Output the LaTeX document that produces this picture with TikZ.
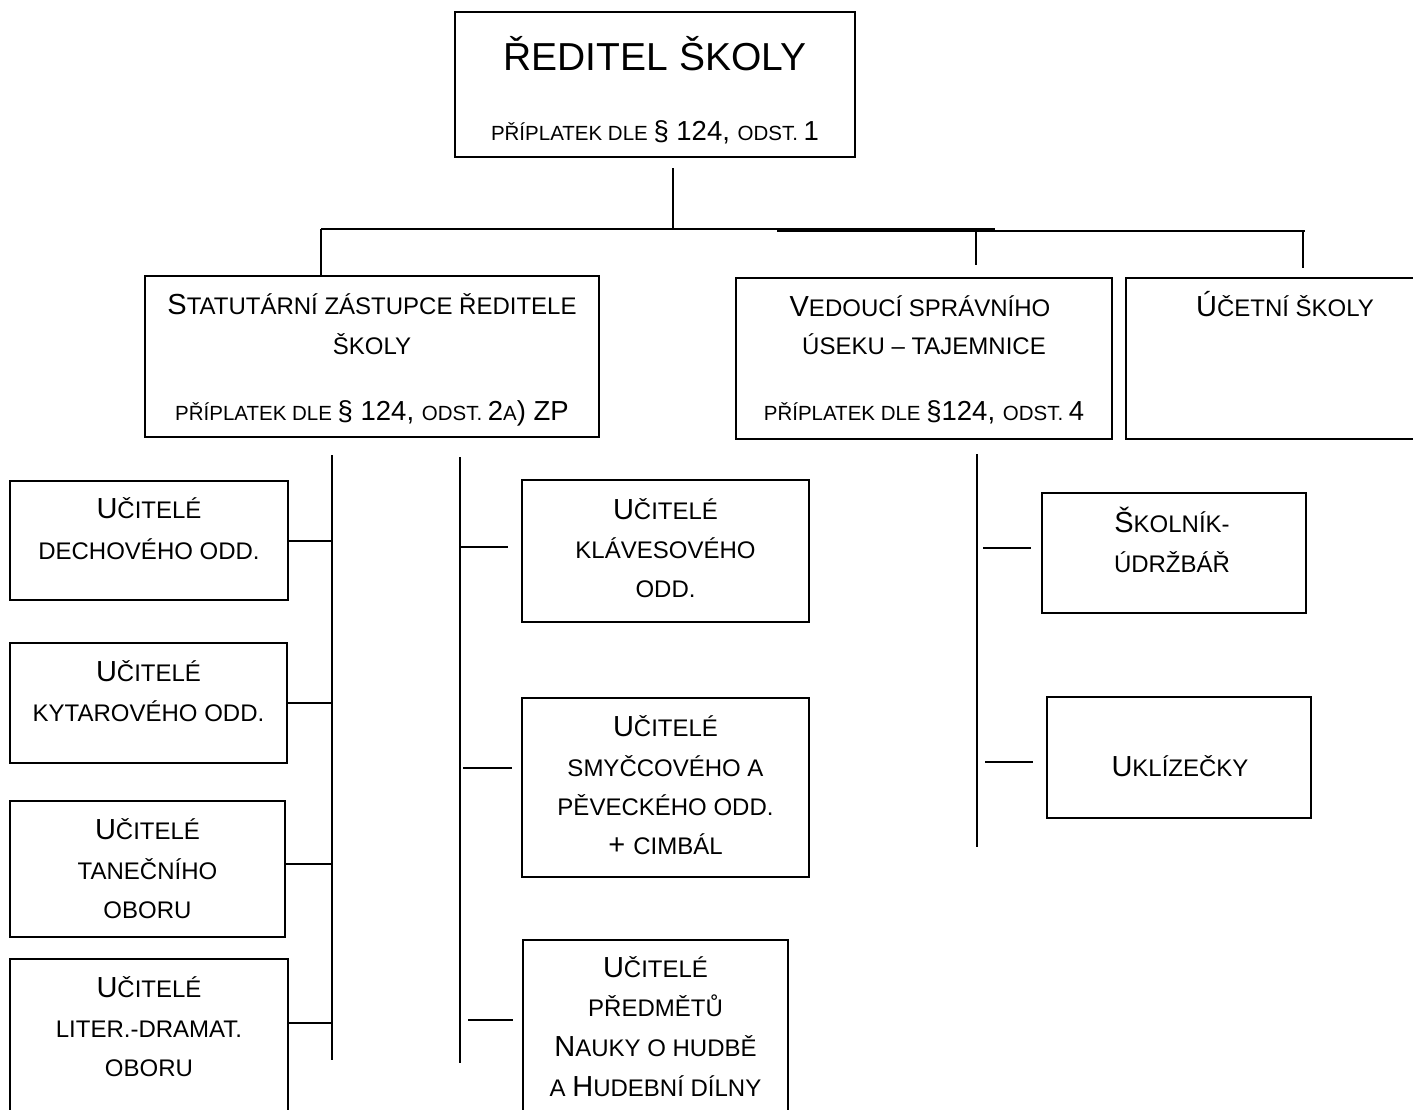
\documentclass[tikz,border=0pt]{standalone}
\usepackage{fontspec}
\setmainfont{Liberation Sans}
\newcommand\Sm[1]{{\fontsize{24}{24}\selectfont #1}}
\newcommand\Ss[1]{{\fontsize{20.5}{20.5}\selectfont #1}}
\begin{document}
\begin{tikzpicture}[x=1pt,y=-1pt,
  box/.style={draw, line width=1.8pt, inner sep=0pt},
  conn/.style={line width=1.5pt},
  txt/.style={inner sep=0pt, anchor=base, font=\fontsize{29}{29}\selectfont},
  subtxt/.style={inner sep=0pt, anchor=base, font=\fontsize{27.5}{27.5}\selectfont},
  titletxt/.style={inner sep=0pt, anchor=base, font=\fontsize{39}{39}\selectfont}]
\clip (0,0) rectangle (1413,1109);
\fill[white] (0,0) rectangle (1413,1109);

% boxes
\node[box, minimum width=400, minimum height=145] (top) at (655,84.5) {};
\node[box, minimum width=454, minimum height=161] (stat) at (372,356.5) {};
\node[box, minimum width=376, minimum height=161] (ved) at (924,358.5) {};
\node[box, minimum width=318, minimum height=161] (uct) at (1285,358.5) {};
\node[box, minimum width=278, minimum height=119] (dech) at (149,540.5) {};
\node[box, minimum width=277, minimum height=120] (kyt) at (148.5,703) {};
\node[box, minimum width=275, minimum height=136] (tan) at (147.5,869) {};
\node[box, minimum width=278, minimum height=171] (lit) at (149,1044.5) {};
\node[box, minimum width=287, minimum height=142] (klav) at (665.5,551) {};
\node[box, minimum width=287, minimum height=179] (smy) at (665.5,787.5) {};
\node[box, minimum width=265, minimum height=190] (pred) at (655.5,1035) {};
\node[box, minimum width=264, minimum height=120] (skol) at (1174,553) {};
\node[box, minimum width=264, minimum height=121] (ukl) at (1179,757.5) {};

% texts
\node[titletxt] (top-1) at (655,70) {ŘEDITEL ŠKOLY};
\node[subtxt] (top-2) at (655,140) {\Ss{PŘÍPLATEK DLE }§ 124, \Ss{ODST. }1};

\node[txt] (stat-1) at (372,314) {S\Sm{TATUTÁRNÍ ZÁSTUPCE ŘEDITELE}};
\node[txt] (stat-2) at (372,354) {\Sm{ŠKOLY}};
\node[subtxt] (stat-3) at (372,420) {\Ss{PŘÍPLATEK DLE }§ 124, \Ss{ODST. }2\Ss{A}) ZP};

\node[txt] (ved-1) at (920,316) {V\Sm{EDOUCÍ SPRÁVNÍHO}};
\node[txt] (ved-2) at (924,354) {\Sm{ÚSEKU – TAJEMNICE}};
\node[subtxt] (ved-3) at (924,420) {\Ss{PŘÍPLATEK DLE }§124, \Ss{ODST. }4};

\node[txt] (uct-1) at (1285,316) {Ú\Sm{ČETNÍ ŠKOLY}};

\node[txt] (dech-1) at (149,518) {U\Sm{ČITELÉ}};
\node[txt] (dech-2) at (149,559) {\Sm{DECHOVÉHO ODD.}};
\node[txt] (kyt-1) at (148.5,681) {U\Sm{ČITELÉ}};
\node[txt] (kyt-2) at (148.5,721) {\Sm{KYTAROVÉHO ODD.}};
\node[txt] (tan-1) at (147.5,839) {U\Sm{ČITELÉ}};
\node[txt] (tan-2) at (147.5,879) {\Sm{TANEČNÍHO}};
\node[txt] (tan-3) at (147.5,918) {\Sm{OBORU}};
\node[txt] (lit-1) at (149,997) {U\Sm{ČITELÉ}};
\node[txt] (lit-2) at (149,1037) {\Sm{LITER.-DRAMAT.}};
\node[txt] (lit-3) at (149,1076) {\Sm{OBORU}};

\node[txt] (klav-1) at (665.5,519) {U\Sm{ČITELÉ}};
\node[txt] (klav-2) at (665.5,558) {\Sm{KLÁVESOVÉHO}};
\node[txt] (klav-3) at (665.5,597) {\Sm{ODD.}};
\node[txt] (smy-1) at (665.5,736) {U\Sm{ČITELÉ}};
\node[txt] (smy-2) at (665.5,776) {\Sm{SMYČCOVÉHO A}};
\node[txt] (smy-3) at (665.5,815) {\Sm{PĚVECKÉHO ODD.}};
\node[txt] (smy-4) at (665.5,854) {+ \Sm{CIMBÁL}};
\node[txt] (pred-1) at (655.5,977) {U\Sm{ČITELÉ}};
\node[txt] (pred-2) at (655.5,1016) {\Sm{PŘEDMĚTŮ}};
\node[txt] (pred-3) at (655.5,1056) {N\Sm{AUKY O HUDBĚ}};
\node[txt] (pred-4) at (655.5,1096) {\Sm{A }H\Sm{UDEBNÍ DÍLNY}};

\node[txt] (skol-1) at (1172,532) {Š\Sm{KOLNÍK-}};
\node[txt] (skol-2) at (1172,572) {\Sm{ÚDRŽBÁŘ}};
\node[txt] (ukl-1) at (1180,776) {U\Sm{KLÍZEČKY}};

% connector coordinates
\coordinate (topc) at (673,168);
\coordinate (hubL) at (321,229);
\coordinate (hubR) at (995,229);
\coordinate (hubBL) at (777,231);
\coordinate (hubBR) at (1305,231);
\coordinate (vedA) at (976,231);
\coordinate (vedB) at (976,265);
\coordinate (uctA) at (1303,231);
\coordinate (uctB) at (1303,268);

\coordinate (sLa) at (332,455);
\coordinate (sLb) at (332,1060);
\coordinate (cL1) at (332,541);
\coordinate (cL2) at (332,703);
\coordinate (cL3) at (332,864);
\coordinate (cL4) at (332,1023);

\coordinate (sMa) at (460,457);
\coordinate (sMb) at (460,1063);
\coordinate (m1a) at (460,547);
\coordinate (m1b) at (508,547);
\coordinate (m2a) at (463,768);
\coordinate (m2b) at (512,768);
\coordinate (m3a) at (468,1020);
\coordinate (m3b) at (513,1020);

\coordinate (sRa) at (977,454);
\coordinate (sRb) at (977,847);
\coordinate (r1a) at (983,548);
\coordinate (r1b) at (1031,548);
\coordinate (r2a) at (985,762);
\coordinate (r2b) at (1033,762);

% connectors
\draw[conn] (topc) -- (topc |- hubL);
\draw[conn] (hubL) -- (hubR);
\draw[conn] (hubBL) -- (hubBR);
\draw[conn] (hubL) -- (hubL |- stat.north);
\draw[conn] (vedA) -- (vedB);
\draw[conn] (uctA) -- (uctB);

\draw[conn] (sLa) -- (sLb);
\draw[conn] (cL1) -- (cL1 -| dech.east);
\draw[conn] (cL2) -- (cL2 -| kyt.east);
\draw[conn] (cL3) -- (cL3 -| tan.east);
\draw[conn] (cL4) -- (cL4 -| lit.east);

\draw[conn] (sMa) -- (sMb);
\draw[conn] (m1a) -- (m1b);
\draw[conn] (m2a) -- (m2b);
\draw[conn] (m3a) -- (m3b);

\draw[conn] (sRa) -- (sRb);
\draw[conn] (r1a) -- (r1b);
\draw[conn] (r2a) -- (r2b);
\end{tikzpicture}
\end{document}
